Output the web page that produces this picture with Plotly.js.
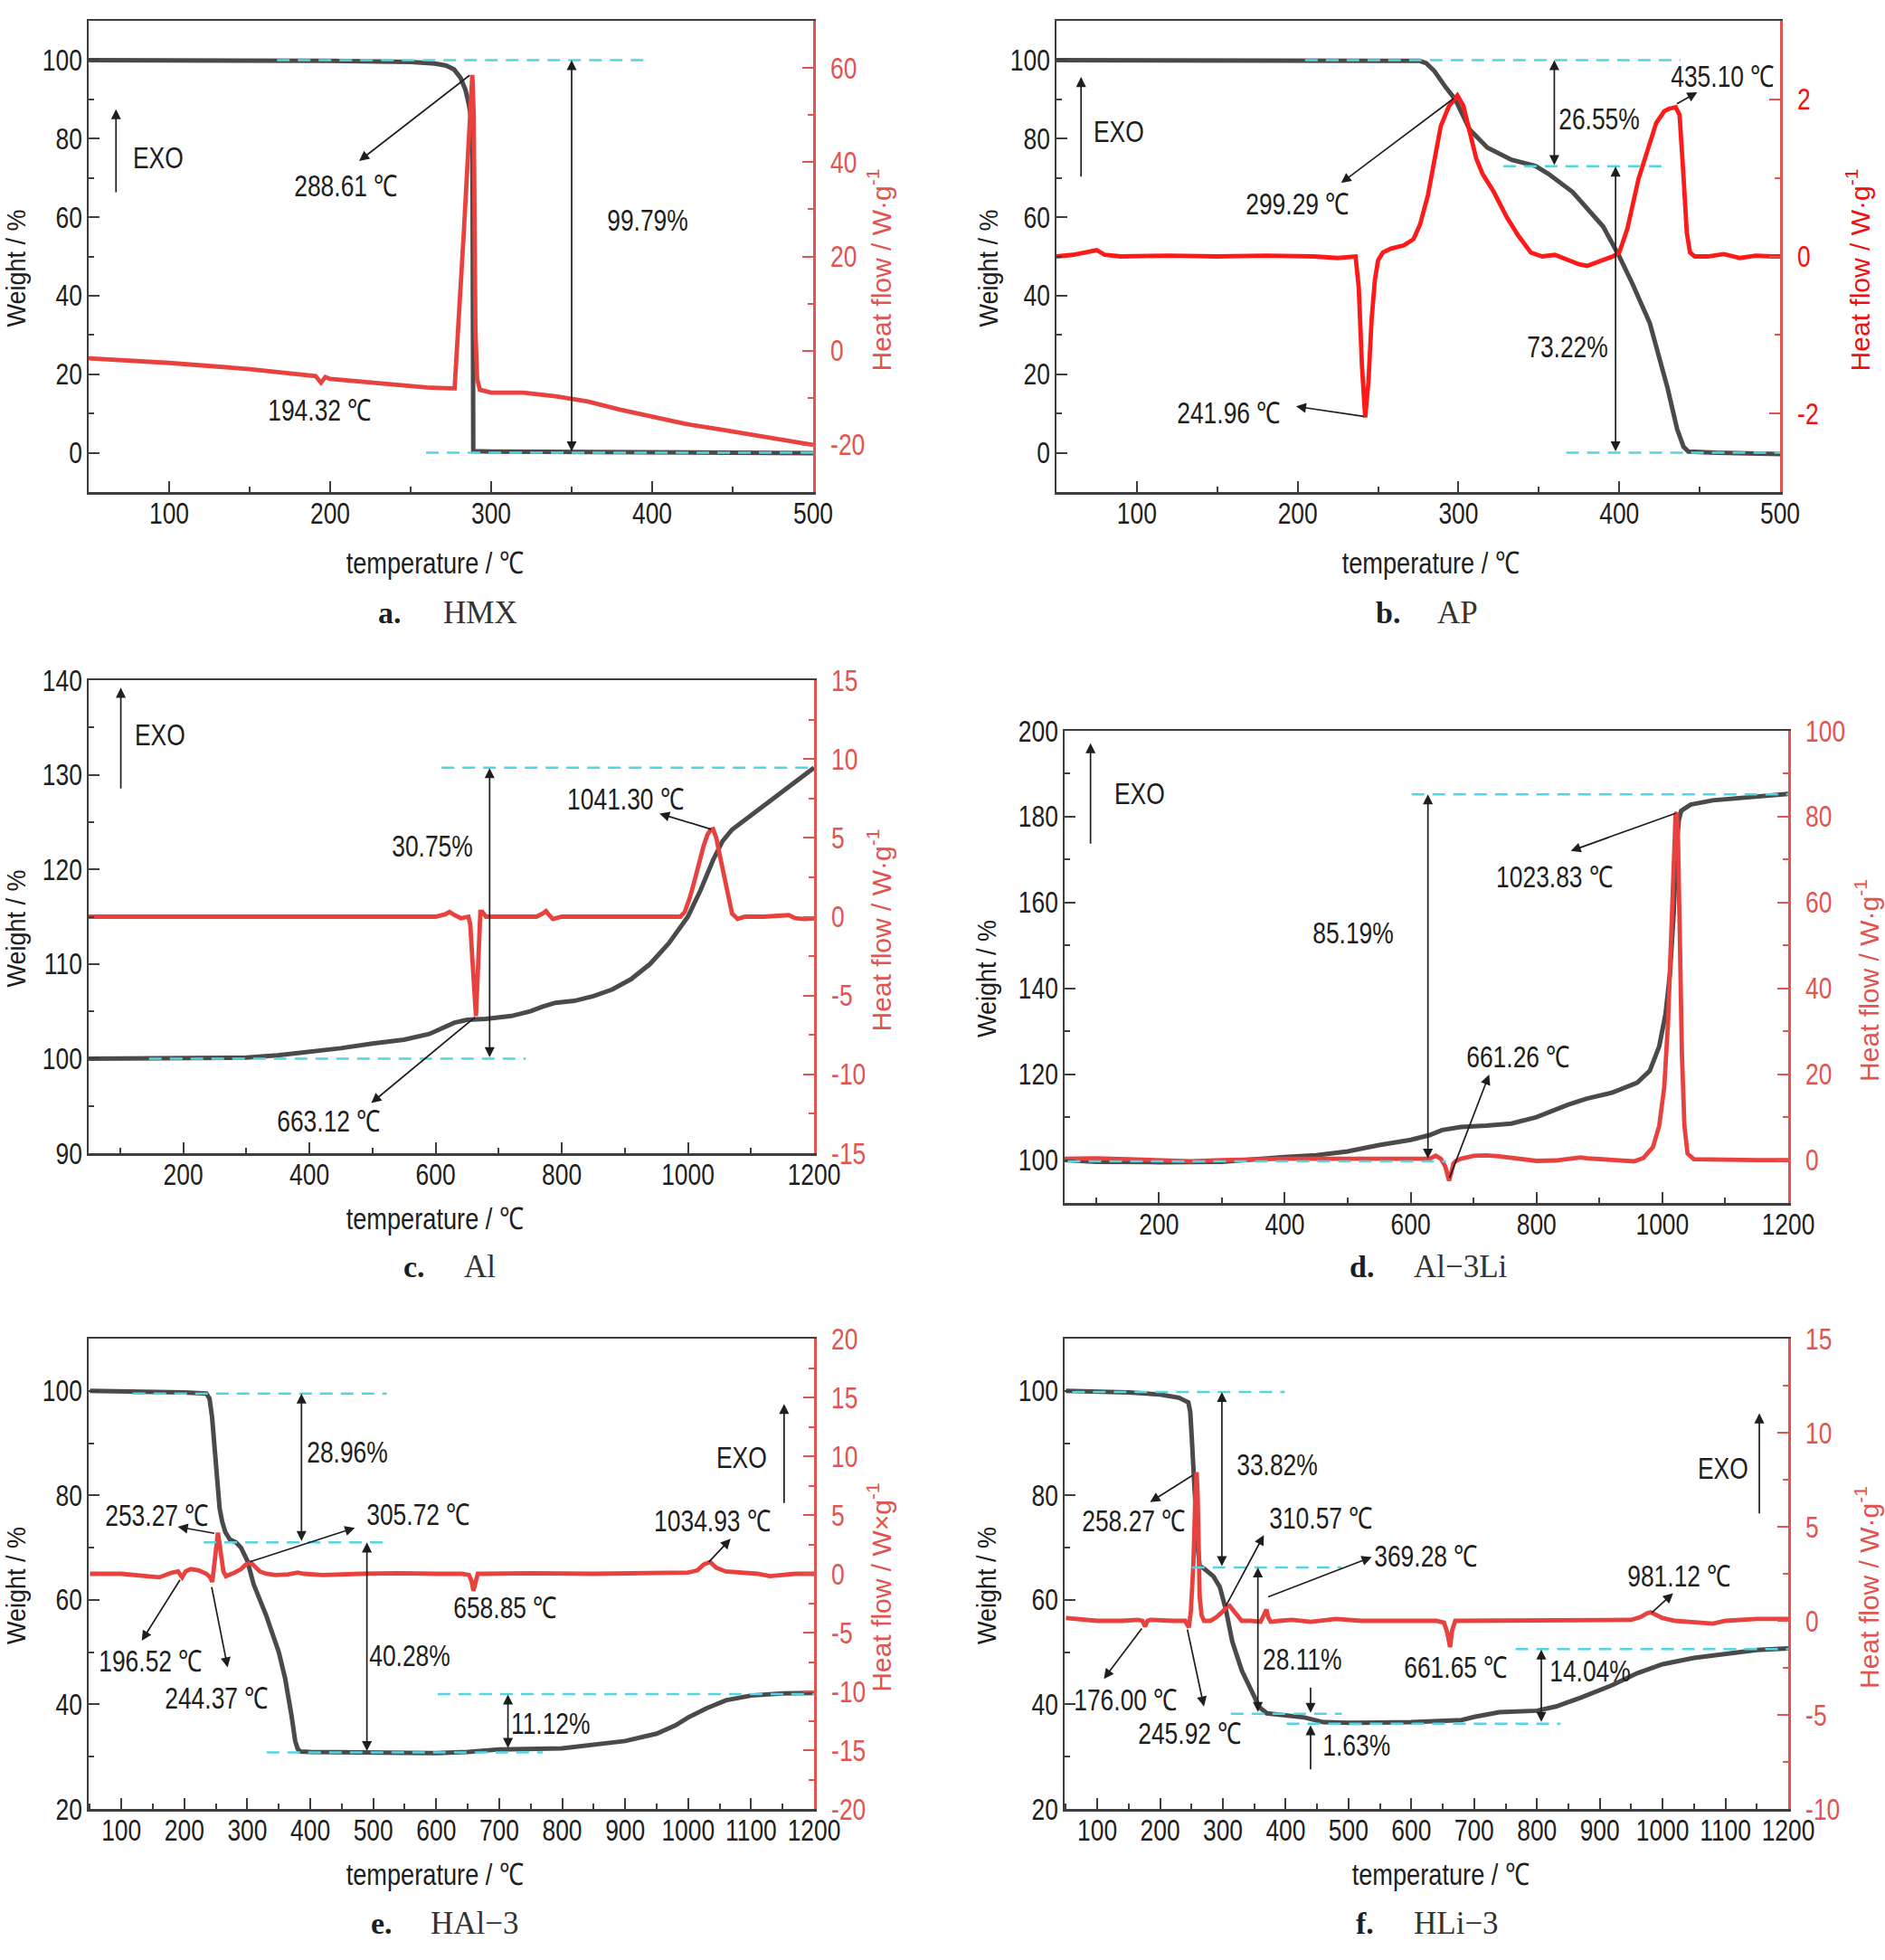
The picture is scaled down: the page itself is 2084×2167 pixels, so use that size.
<!DOCTYPE html>
<html><head><meta charset="utf-8">
<script src="https://cdn.plot.ly/plotly-3.0.1.min.js"></script>
<style>html,body{margin:0;padding:0;background:#fff;}#chart{width:2084px;height:2167px;}</style>
</head><body><div id="chart"></div>
<script>
// ---------- a. HMX ----------
const hmxTgT = [50, 100, 150, 200, 250, 265, 272, 277, 281, 284, 286, 287.5, 288.4, 288.7, 288.9, 300, 350, 400, 450, 500];
const hmxTg  = [100, 100, 100, 99.8, 99.5, 99.1, 98.6, 97.6, 95.5, 92.5, 89, 85.5, 80, 40, 0.4, 0.3, 0.2, 0.1, 0, -0.1];
const hmxDscT = [50, 100, 150, 185, 191, 194.3, 197, 200, 230, 260, 275, 277.3, 283, 288.3, 289.2, 290.2, 291.3, 293, 300, 320, 340, 360, 380, 400, 420, 440, 460, 480, 500];
const hmxDsc  = [-1.6, -2.6, -3.9, -5.2, -5.4, -6.8, -5.6, -6.0, -6.9, -7.8, -8.0, -8.0, 25, 58.5, 50, 5, -6, -8.3, -8.9, -8.9, -9.7, -10.8, -12.5, -14.1, -15.5, -16.6, -17.8, -19.0, -20.0];

// ---------- b. AP ----------
const apTgT = [50, 150, 250, 270, 276, 280, 285, 292, 298, 307, 318, 333, 348, 356, 371, 390, 400, 408, 419, 430, 436, 440, 443, 460, 500];
const apTg  = [100, 100, 100, 100, 99.8, 99.2, 97.2, 93.1, 90, 82.3, 77.7, 74.6, 73, 71, 66.4, 57.6, 50, 43.2, 33, 16.5, 6, 1.5, 0.3, 0, -0.3];
const apDscT = [50, 60, 70, 75, 80, 90, 120, 150, 180, 210, 225, 236, 238, 240, 242, 244, 246, 248, 250, 253, 258, 266, 272, 276, 281, 285, 289, 294, 299.3, 303, 307, 311, 315, 322, 330, 337, 345, 352, 360, 368, 375, 380, 390, 396, 400, 405, 412, 418, 423, 428, 431, 435.1, 437.5, 440, 442, 444, 447, 455, 465, 475, 485, 495, 500];
const apDsc  = [0, 0.02, 0.06, 0.08, 0.02, 0, 0.01, 0, 0.01, 0, -0.02, 0, -0.4, -1.4, -2.05, -1.6, -0.8, -0.3, -0.05, 0.05, 0.1, 0.14, 0.22, 0.4, 0.78, 1.2, 1.66, 1.91, 2.05, 1.92, 1.58, 1.25, 1.05, 0.82, 0.5, 0.27, 0.05, 0, 0.02, -0.05, -0.1, -0.12, -0.05, 0, 0.05, 0.35, 0.99, 1.4, 1.7, 1.85, 1.88, 1.9, 1.8, 1.0, 0.3, 0.05, 0, 0, 0.03, -0.02, 0.01, 0, 0];

// ---------- c. Al ----------
const alTgT = [50, 100, 200, 300, 350, 400, 450, 500, 550, 590, 610, 630, 650, 680, 720, 750, 770, 790, 820, 850, 880, 910, 940, 970, 1000, 1020, 1040, 1055, 1070, 1090, 1110, 1150, 1200];
const alTg  = [100, 100, 100, 100.1, 100.35, 100.7, 101.1, 101.6, 102.0, 102.6, 103.2, 103.8, 104.1, 104.2, 104.5, 105.0, 105.5, 105.9, 106.1, 106.6, 107.3, 108.4, 110, 112.2, 115, 117.8, 121, 123, 124.2, 125.2, 126.2, 128.3, 130.75];
const alDscT = [50, 150, 250, 350, 450, 550, 600, 615, 622, 630, 640, 652, 655, 658, 661, 664, 667, 669, 671, 674, 680, 720, 760, 770, 775, 780, 786, 800, 850, 900, 950, 988, 995, 1003, 1010, 1017, 1025, 1031, 1036, 1040, 1045, 1050, 1055, 1060, 1065, 1070, 1079, 1090, 1120, 1150, 1160, 1170, 1185, 1200];
const alDsc  = [0, 0, 0.05, 0, 0.05, 0, 0, 0.15, 0.3, 0.1, -0.1, 0, -0.5, -2.5, -5, -6.3, -3.5, -0.5, 0.3, 0.3, 0, 0, 0, 0.2, 0.35, 0.1, -0.15, 0, 0, 0, 0, 0, 0.3, 1.2, 2.2, 3.4, 4.5, 5.2, 5.5, 5.55, 5.0, 4.0, 3.0, 2.0, 1.0, 0.2, -0.15, 0, 0, 0.05, 0.1, -0.1, -0.15, -0.1];

// ---------- d. Al-3Li ----------
const alliTgT = [50, 100, 200, 300, 400, 450, 500, 550, 600, 630, 650, 680, 720, 760, 800, 850, 880, 920, 960, 980, 995, 1005, 1012, 1018, 1022, 1026, 1030, 1045, 1080, 1150, 1200];
const alliTg  = [100, 99.6, 99.5, 99.6, 100.7, 101.1, 102, 103.5, 104.7, 105.8, 107, 107.7, 108, 108.5, 110, 112.9, 114.3, 115.7, 118, 120.8, 126.5, 134, 143.4, 157.5, 171.6, 179.1, 181.4, 182.8, 183.8, 184.7, 185.3];
const alliDscT = [50, 100, 150, 200, 250, 300, 350, 400, 500, 600, 630, 640, 648, 655, 658, 661, 664, 668, 672, 680, 700, 720, 740, 760, 780, 800, 830, 860, 870, 880, 900, 930, 955, 970, 985, 995, 1003, 1009, 1014, 1018, 1021, 1023, 1025, 1028, 1031, 1035, 1040, 1050, 1100, 1150, 1200];
const alliDsc  = [0.3, 0.4, 0.2, -0.1, -0.3, 0, 0.2, 0.3, 0.3, 0.3, 0.3, 1.0, 0.3, -1.5, -3.5, -4.8, -3.2, -0.8, -0.2, 0.3, 1.0, 1.1, 0.9, 0.5, 0.1, -0.2, -0.1, 0.3, 0.6, 0.4, 0.2, -0.1, -0.3, 0.5, 3, 8, 17, 32, 55, 72, 80.5, 81, 74, 50, 25, 8, 1.5, 0.2, 0, 0, 0];

// ---------- e. HAl-3 ----------
const hal3TgT = [50, 150, 200, 235, 240, 244, 248, 252, 256, 260, 265, 272, 282, 290, 300, 310, 330, 350, 360, 370, 376, 380, 384, 400, 500, 600, 650, 680, 700, 800, 850, 900, 950, 980, 1000, 1030, 1060, 1100, 1150, 1200];
const hal3Tg  = [100, 99.9, 99.7, 99.5, 98.5, 95, 89, 82, 77.5, 75, 73, 71.6, 71, 70, 67.5, 63, 57, 50, 45, 38, 33, 31.5, 31, 30.9, 30.8, 30.7, 30.9, 31.3, 31.4, 31.6, 32.2, 33, 34.4, 36, 37.5, 39.3, 40.8, 41.7, 42.1, 42.2];
const hal3DscT = [50, 100, 140, 160, 180, 190, 196.5, 202, 210, 222, 235, 241, 244.4, 247, 250, 253.3, 256, 259, 262, 266, 272, 280, 290, 298, 305.7, 312, 320, 330, 345, 365, 380, 390, 420, 480, 540, 600, 640, 652, 656, 659, 662, 666, 680, 750, 850, 950, 1000, 1015, 1025, 1035, 1045, 1060, 1080, 1110, 1130, 1150, 1170, 1200];
const hal3Dsc  = [0, 0, -0.2, -0.3, 0.1, 0.2, -0.3, 0.2, 0.4, 0.3, 0, -0.3, -0.7, 0.5, 2.2, 3.5, 2.5, 1.0, 0.2, -0.2, -0.1, 0.1, 0.4, 0.8, 0.95, 0.6, 0.2, 0, -0.1, -0.05, 0.1, 0, -0.1, 0, 0.05, 0, 0, -0.1, -0.6, -1.45, -0.8, 0, 0, 0.05, 0, 0.05, 0.1, 0.3, 0.8, 1.0, 0.5, 0.2, 0.1, 0, -0.2, -0.1, 0, 0];

// ---------- f. HLi-3 ----------
const hli3TgT = [50, 100, 150, 200, 230, 245, 248, 250, 253, 256, 260, 263, 270, 285, 295, 305, 315, 330, 345, 358, 370, 400, 430, 460, 500, 600, 660, 680, 700, 740, 800, 830, 870, 920, 960, 1000, 1050, 1100, 1150, 1200];
const hli3Tg  = [100, 99.9, 99.7, 99.3, 98.7, 97.8, 96, 92, 85, 78, 70, 66.5, 66, 64.5, 62.5, 58, 52, 46.5, 42.5, 39.5, 38.3, 38, 37.5, 36.6, 36.5, 36.6, 36.8, 37, 37.6, 38.5, 38.8, 39.6, 41.3, 43.7, 46, 47.7, 48.9, 49.7, 50.4, 50.7];
const hli3DscT = [50, 70, 100, 140, 165, 172, 176, 180, 185, 220, 240, 243, 245.9, 249, 253, 256, 258.3, 260, 261.5, 263, 266, 270, 280, 290, 300, 306, 310.6, 316, 322, 330, 345, 360, 365, 369.3, 372, 376, 390, 410, 440, 480, 520, 560, 600, 640, 652, 657, 661.7, 665, 670, 700, 800, 900, 950, 965, 975, 981, 990, 1000, 1020, 1050, 1080, 1100, 1150, 1200];
const hli3Dsc  = [0.15, 0.1, 0, 0, 0.05, 0, -0.3, 0, 0.05, 0, 0, -0.2, -0.35, 0.5, 3, 6.5, 7.9, 6.5, 3.5, 1.3, 0.3, 0, 0, 0.2, 0.5, 0.75, 0.8, 0.6, 0.3, 0, 0, -0.05, 0.3, 0.6, 0.2, -0.05, 0, 0.05, -0.05, 0.1, 0, 0, 0, 0, -0.1, -0.6, -1.4, -0.5, 0, 0, 0, 0, 0.05, 0.2, 0.4, 0.45, 0.3, 0.15, 0, -0.1, -0.15, 0, 0.1, 0.1];

// ---------- labels ----------
const letters = ['a.', 'b.', 'c.', 'd.', 'e.', 'f.'];
const samples = ['HMX', 'AP', 'Al', 'Al\u22123Li', 'HAl\u22123', 'HLi\u22123'];
const xTitle = 'temperature / \u2103';
const yTitle = 'Weight / %';
const hfTitles = ['Heat flow / W\u00b7g<sup>-1</sup>', 'Heat flow / W\u00b7g<sup>-1</sup>', 'Heat flow / W\u00b7g<sup>-1</sup>', 'Heat flow / W\u00b7g<sup>-1</sup>', 'Heat flow / W\u00d7g<sup>-1</sup>', 'Heat flow / W\u00b7g<sup>-1</sup>'];

// ---------- styling / layout ----------
const W = 2084, H = 2167;
const GRAY = '#4a4a4a', RED = '#e8423f', REDB = '#ff1a1a', CYAN = '#52d6e6', AXRED = '#e25450', INK = '#1e1e1e', AXLINE = '#3e3e3e';
const SANS = '"Liberation Sans", Arial, sans-serif';
const SERIF = '"Liberation Serif", "Times New Roman", serif';
const SQUEEZE = 0.8;     // horizontal condensing of the narrow labels
const WSQUEEZE = 0.9;    // condensing of the weight titles

const series = [
  {tgT: hmxTgT, tg: hmxTg, dT: hmxDscT, d: hmxDsc},
  {tgT: apTgT, tg: apTg, dT: apDscT, d: apDsc},
  {tgT: alTgT, tg: alTg, dT: alDscT, d: alDsc},
  {tgT: alliTgT, tg: alliTg, dT: alliDscT, d: alliDsc},
  {tgT: hal3TgT, tg: hal3Tg, dT: hal3DscT, d: hal3Dsc},
  {tgT: hli3TgT, tg: hli3Tg, dT: hli3DscT, d: hli3Dsc}
];

// panel frames: pixel box [left,right,top,bottom], axis [min,max,dtick,minor]
// tpos: title centres in px  [xTitleX, xTitleY, leftTitleX, rightTitleX]
const frames = [
  {box: [98, 899, 23, 544], x: [50, 500, 100, 50], yl: [-10, 110, 20, 10], yr: [-30, 70, 20, 10], red: RED, hfc: AXRED, xt: true, tpos: [481, 622, 17, 972], cap: [446, 488, 678]},
  {box: [1168, 1968, 23, 544], x: [50, 500, 100, 50], yl: [-10, 110, 20, 10], yr: [-3, 3, 2, 1], red: REDB, hfc: '#f01010', xt: true, tpos: [1582, 622, 1092, 2054], cap: [1550, 1587, 678]},
  {box: [98, 900, 752, 1275], x: [50, 1200, 200, 100], yl: [90, 140, 10, 5], yr: [-15, 15, 5, 2.5], red: RED, hfc: AXRED, xt: true, tpos: [481, 1347, 17, 972], cap: [472, 511, 1400]},
  {box: [1177, 1977, 808, 1330], x: [50, 1200, 200, 100], yl: [90, 200, 20, 10], yr: [-10, 100, 20, 10], red: RED, hfc: AXRED, xt: false, tpos: [0, 0, 1090, 2064], cap: [1521, 1561, 1400]},
  {box: [98, 900, 1480, 2000], x: [48, 1200, 100, 50], yl: [20, 110, 20, 10], yr: [-20, 20, 5, 2.5], red: RED, hfc: AXRED, xt: true, tpos: [481, 2072, 17, 972], cap: [436, 474, 2126]},
  {box: [1177, 1977, 1480, 2000], x: [48, 1200, 100, 50], yl: [20, 110, 20, 10], yr: [-10, 15, 5, 2.5], red: RED, hfc: AXRED, xt: true, tpos: [1593, 2072, 1090, 2064], cap: [1521, 1561, 2126]}
];

// reference (dashed) levels per panel: [level, from, to]
const guides = [
  [[100, 167, 399.5], [0, 259.6, 500]],
  [[100, 204.6, 438], [73, 327.8, 430.5], [0, 367, 500]],
  [[130.75, 609.5, 1200], [100, 145.7, 743]],
  [[185.2, 601.6, 1200], [99.7, 55, 656]],
  [[99.5, 118, 521.3], [71, 230.6, 524.2], [42, 602.3, 1200], [30.8, 330.7, 769.2]],
  [[99.8, 60, 398.6], [66.2, 250.7, 489.2], [38.2, 312.7, 489.2], [36.3, 401.5, 837.4], [50.6, 765.9, 1200]]
];

const X = p => p === 1 ? 'x' : 'x' + p;
const YL = p => (2 * p - 1) === 1 ? 'y' : 'y' + (2 * p - 1);
const YR = p => 'y' + (2 * p);
const lay = id => id.replace('x', 'xaxis').replace('y', 'yaxis');

const data = [];
const layout = {
  width: W, height: H, margin: {l: 0, r: 0, t: 0, b: 0},
  paper_bgcolor: '#ffffff', plot_bgcolor: 'rgba(0,0,0,0)', showlegend: false,
  annotations: [], shapes: []
};

frames.forEach((f, i) => {
  const p = i + 1, s = series[i];
  data.push({x: s.tgT, y: s.tg, xaxis: X(p), yaxis: YL(p), mode: 'lines', line: {color: GRAY, width: 5}, hoverinfo: 'skip'});
  data.push({x: s.dT, y: s.d, xaxis: X(p), yaxis: YR(p), mode: 'lines', line: {color: f.red, width: 4.8}, hoverinfo: 'skip'});
  const [l, r, t, b] = f.box;
  const tickF = {family: SANS, size: 33, color: INK};
  layout[lay(X(p))] = {
    domain: [l / W, r / W], range: [f.x[0], f.x[1]], anchor: YL(p), tick0: 0, dtick: f.x[2], tickangle: 0,
    ticks: 'inside', ticklen: 12, tickwidth: 2, tickcolor: AXLINE,
    minor: {dtick: f.x[3], tick0: 0, ticks: 'inside', ticklen: 6, tickwidth: 2, tickcolor: AXLINE},
    showline: true, linewidth: 2.5, linecolor: AXLINE, mirror: true, showgrid: false, zeroline: false,
    tickfont: tickF, ticklabelstandoff: -7,
    title: f.xt ? {text: xTitle, font: {family: SANS, size: 34, color: INK}, standoff: 26} : {text: ''}
  };
  layout[lay(YL(p))] = {
    domain: [1 - b / H, 1 - t / H], range: [f.yl[0], f.yl[1]], anchor: X(p), tick0: 0, dtick: f.yl[2], tickangle: 0,
    ticks: 'inside', ticklen: 12, tickwidth: 2, tickcolor: AXLINE,
    minor: {dtick: f.yl[3], tick0: 0, ticks: 'inside', ticklen: 6, tickwidth: 2, tickcolor: AXLINE},
    showline: true, linewidth: 2.5, linecolor: AXLINE, showgrid: false, zeroline: false,
    tickfont: tickF, ticklabelstandoff: -2,
    title: {text: yTitle, font: {family: SANS, size: 30, color: INK}, standoff: 10}
  };
  layout[lay(YR(p))] = {
    overlaying: YL(p), side: 'right', anchor: X(p), range: [f.yr[0], f.yr[1]], tick0: 0, dtick: f.yr[2], tickangle: 0,
    ticks: 'inside', ticklen: 12, tickwidth: 2, tickcolor: AXRED,
    minor: {dtick: f.yr[3], tick0: 0, ticks: 'inside', ticklen: 6, tickwidth: 2, tickcolor: AXRED},
    showline: true, linewidth: 2.5, linecolor: AXRED, showgrid: false, zeroline: false,
    tickfont: {family: SANS, size: 33, color: f.hfc}, ticklabelstandoff: 10,
    title: {text: hfTitles[i], font: {family: SANS, size: 30, color: f.hfc}, standoff: 10}
  };
  guides[i].forEach(g => layout.shapes.push({
    type: 'line', xref: X(p), yref: YL(p), x0: g[1], x1: g[2], y0: g[0], y1: g[0], layer: 'above',
    line: {color: CYAN, width: 2.5, dash: '14px,9px'}
  }));
  // captions
  layout.annotations.push({xref: 'paper', yref: 'paper', x: f.cap[0] / W, y: 1 - f.cap[2] / H, xanchor: 'right', yanchor: 'middle',
    text: '<b>' + letters[i] + '</b>', showarrow: false, font: {family: SERIF, size: 34, color: INK}});
  layout.annotations.push({xref: 'paper', yref: 'paper', x: f.cap[1] / W, y: 1 - f.cap[2] / H, xanchor: 'left', yanchor: 'middle',
    text: samples[i], showarrow: false, font: {family: SERIF, size: 35, color: '#333333'}});
});

function txt(p, x, y, s) {
  return {xref: X(p), yref: YL(p), x: x, y: y, text: s, showarrow: false, xanchor: 'center', yanchor: 'middle',
    font: {family: SANS, size: 33, color: INK}};
}
function arr(p, x0, y0, x1, y1, both) {
  return {xref: X(p), yref: YL(p), axref: X(p), ayref: YL(p), x: x1, y: y1, ax: x0, ay: y0, text: '',
    font: {size: 1}, showarrow: true, arrowhead: 2, arrowsize: 1.3, arrowwidth: 1.7, arrowcolor: INK,
    standoff: 0, startstandoff: 0, arrowside: both ? 'end+start' : 'end'};
}
const C = ' \u2103';
const notes = [
  // a
  arr(1, 67, 66, 67, 87.5), txt(1, 93, 75, 'EXO'),
  arr(1, 287.5, 96.4, 218, 74.3), txt(1, 210, 68, '288.61' + C),
  txt(1, 193.6, 10.8, '194.32' + C), txt(1, 397, 59.1, '99.79%'),
  arr(1, 350, 0, 350, 100, true),
  // b
  arr(2, 65.3, 70, 65.3, 95.7), txt(2, 88.8, 81.8, 'EXO'),
  arr(2, 297.9, 90.5, 227, 68.7), txt(2, 199.7, 63.3, '299.29' + C),
  arr(2, 241.9, 9.2, 199, 11.8), txt(2, 157, 10.1, '241.96' + C),
  arr(2, 435, 88.7, 448.5, 91.8), txt(2, 464, 95.9, '435.10' + C),
  txt(2, 387.6, 84.9, '26.55%'), arr(2, 359.6, 72.9, 359.6, 100, true),
  txt(2, 367.8, 27, '73.22%'), arr(2, 397.7, 0, 397.7, 72.9, true),
  // c
  arr(3, 101, 128.4, 101, 139.2), txt(3, 163, 134.2, 'EXO'),
  txt(3, 595, 122.5, '30.75%'), arr(3, 685.7, 100, 685.7, 130.7, true),
  arr(3, 1039, 124.2, 955, 125.9), txt(3, 901, 127.4, '1041.30' + C),
  arr(3, 664.8, 104.5, 498, 95.3), txt(3, 431.4, 93.4, '663.12' + C),
  // d
  arr(4, 91.2, 173.4, 91.2, 197.1), txt(4, 169.5, 185.4, 'EXO'),
  txt(4, 508, 152.8, '85.19%'), arr(4, 627.4, 100, 627.4, 185.2, true),
  arr(4, 1023, 180.9, 854.4, 172), txt(4, 827.7, 165.9, '1023.83' + C),
  arr(4, 660.8, 95.5, 724.7, 119.9), txt(4, 770.5, 124.1, '661.26' + C),
  // e
  arr(5, 1152.4, 78.3, 1152.4, 97.5), txt(5, 1085.6, 87.2, 'EXO'),
  txt(5, 459.4, 88.2, '28.96%'), arr(5, 386, 71, 386, 99.5, true),
  txt(5, 557.5, 49.3, '40.28%'), arr(5, 489.9, 30.8, 489.9, 71, true),
  txt(5, 781.5, 36.3, '11.12%'), arr(5, 713.9, 31.4, 713.9, 41.9, true),
  arr(5, 249.7, 72.7, 189.6, 74), txt(5, 156.2, 76.1, '253.27' + C),
  arr(5, 302, 67.2, 470.8, 73.8), txt(5, 570.9, 76.3, '305.72' + C),
  arr(5, 1031, 67, 1067.5, 71.7), txt(5, 1038.9, 75.1, '1034.93' + C),
  txt(5, 710, 58.5, '658.85' + C),
  arr(5, 194.4, 64.1, 132.4, 52.2), txt(5, 146.7, 48.3, '196.52' + C),
  arr(5, 243, 62.7, 268.7, 47.1), txt(5, 251.6, 41.2, '244.37' + C),
  // f
  arr(6, 1154, 76.3, 1154, 95.7), txt(6, 1097, 85.2, 'EXO'),
  txt(6, 386.2, 85.8, '33.82%'), arr(6, 298.4, 66.2, 298.4, 99.8, true),
  arr(6, 253.6, 84, 184, 78.7), txt(6, 158.2, 75.1, '258.27' + C),
  arr(6, 303.2, 58.5, 365.2, 72.4), txt(6, 455.8, 75.7, '310.57' + C),
  arr(6, 370, 60.5, 536.9, 68.2), txt(6, 622.8, 68.4, '369.28' + C),
  txt(6, 425.3, 48.7, '28.11%'), arr(6, 355.7, 38.3, 355.7, 66.2, true),
  txt(6, 513, 32.2, '1.63%'),
  arr(6, 439.6, 43.5, 439.6, 38.4), arr(6, 439.6, 27.3, 439.6, 36),
  txt(6, 670.5, 47.1, '661.65' + C),
  txt(6, 885, 46.4, '14.04%'), arr(6, 806.9, 36.4, 806.9, 50.5, true),
  arr(6, 980.5, 57.3, 1016.8, 61.3), txt(6, 1026.3, 64.5, '981.12' + C),
  arr(6, 172.5, 54.8, 110.5, 44.9), txt(6, 145.8, 40.8, '176.00' + C),
  arr(6, 243, 54.6, 269.8, 39.6), txt(6, 247.9, 34.4, '245.92' + C)
];
layout.annotations = layout.annotations.concat(notes);

function squeeze(t, k) {
  const x = parseFloat(t.getAttribute('x')) || 0;
  const tr = t.getAttribute('transform') || '';
  t.setAttribute('transform', tr + ' translate(' + x + ',0) scale(' + k + ',1) translate(' + (-x) + ',0)');
}
function moveCentre(t, cx, cy) {
  const r = t.getBoundingClientRect();
  const dx = cx - (r.left + r.right) / 2, dy = cy - (r.top + r.bottom) / 2;
  t.setAttribute('transform', 'translate(' + dx + ',' + dy + ') ' + (t.getAttribute('transform') || ''));
}

Plotly.newPlot('chart', data, layout, {staticPlot: true, displayModeBar: false}).then(gd => {
  gd.querySelectorAll('text').forEach(t => {
    const cls = t.getAttribute('class') || '';
    const par = t.parentNode && t.parentNode.getAttribute ? (t.parentNode.getAttribute('class') || '') : '';
    const isTick = /(^|\s)[xy]\d*tick(\s|$)/.test(par);
    const isXTitle = /^x\d*title$/.test(cls);
    const isNote = /annotation-text/.test(cls) && (t.style.fontFamily || '').indexOf('Serif') < 0;
    if (isTick) t.textContent = t.textContent.replace(/\u2212/g, '-');
    if (isTick || isXTitle || isNote) squeeze(t, SQUEEZE);
  });
  // place the axis titles where the reference has them
  frames.forEach((f, i) => {
    const p = i + 1;
    const [l, r, t, b] = f.box;
    const xt = gd.querySelector('text.' + X(p) + 'title');
    if (xt && f.xt) moveCentre(xt, f.tpos[0], f.tpos[1]);
    const yl = gd.querySelector('text.' + YL(p) + 'title');
    if (yl) { squeeze(yl, WSQUEEZE); moveCentre(yl, f.tpos[2], (t + b) / 2 + 13); }
    const yr = gd.querySelector('text.' + YR(p) + 'title');
    if (yr) moveCentre(yr, f.tpos[3], (t + b) / 2 + 15);
  });
});
</script></body></html>
